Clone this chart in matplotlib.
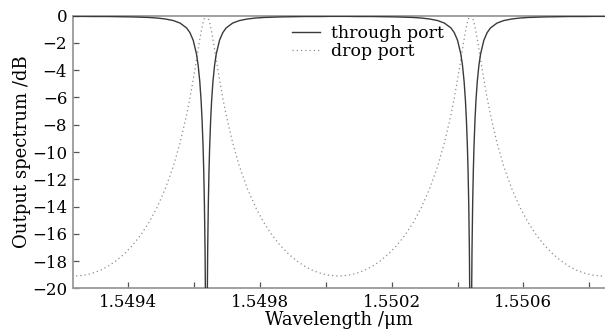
import matplotlib
matplotlib.use("Agg")
import matplotlib.pyplot as plt
import numpy as np
from matplotlib.ticker import FixedLocator

plt.rcParams.update({'font.family': 'DejaVu Serif',
                     'font.size': 12,
                     'mathtext.fontset': 'dejavuserif',
                     'axes.unicode_minus': True})

axis_color = '#9a9a9a'

# sampled spectrum (wavelength in nm), two resonances near 1549.637 and 1550.440 nm
wavelength_nm = [
    1549.228, 1549.2355, 1549.262, 1549.287, 1549.312, 1549.337, 1549.362, 1549.387,
    1549.412, 1549.437, 1549.462, 1549.487, 1549.512, 1549.537, 1549.557, 1549.577,
    1549.587, 1549.597, 1549.607, 1549.612, 1549.617, 1549.621, 1549.624, 1549.627,
    1549.629, 1549.631, 1549.633, 1549.635, 1549.637,
    1549.639, 1549.641, 1549.643, 1549.645, 1549.647, 1549.650, 1549.653, 1549.657,
    1549.662, 1549.667, 1549.677, 1549.687, 1549.697, 1549.717, 1549.737, 1549.762,
    1549.787, 1549.812, 1549.837, 1549.862, 1549.887, 1549.912, 1549.937, 1549.962,
    1549.987, 1550.012, 1550.0385,
    1550.065, 1550.090, 1550.115, 1550.140, 1550.165, 1550.190, 1550.215, 1550.240,
    1550.265, 1550.290, 1550.315, 1550.340, 1550.360, 1550.380, 1550.390, 1550.400,
    1550.410, 1550.415, 1550.420, 1550.424, 1550.427, 1550.430, 1550.432, 1550.434,
    1550.436, 1550.438, 1550.440,
    1550.442, 1550.444, 1550.446, 1550.448, 1550.450, 1550.453, 1550.456, 1550.460,
    1550.465, 1550.470, 1550.480, 1550.490, 1550.500, 1550.520, 1550.540, 1550.565,
    1550.590, 1550.615, 1550.640, 1550.665, 1550.690, 1550.715, 1550.740, 1550.765,
    1550.790, 1550.815, 1550.8415, 1550.852,
]

through_db = [
    -0.05, -0.05, -0.05, -0.06, -0.06, -0.06, -0.07, -0.08,
    -0.09, -0.11, -0.13, -0.17, -0.24, -0.36, -0.54, -0.90,
    -1.24, -1.80, -2.81, -3.63, -4.83, -6.22, -7.66, -9.62,
    -11.38, -13.74, -17.16, -23.12, -40.0,
    -23.12, -17.16, -13.74, -11.38, -9.62, -7.66, -6.22, -4.83,
    -3.63, -2.81, -1.80, -1.24, -0.90, -0.54, -0.36, -0.24,
    -0.17, -0.13, -0.11, -0.09, -0.08, -0.07, -0.06, -0.06,
    -0.06, -0.05, -0.05,
    -0.05, -0.06, -0.06, -0.06, -0.07, -0.08, -0.09, -0.11,
    -0.13, -0.17, -0.24, -0.36, -0.54, -0.90, -1.24, -1.80,
    -2.81, -3.63, -4.83, -6.22, -7.66, -9.62, -11.38, -13.74,
    -17.16, -23.12, -40.0,
    -23.12, -17.16, -13.74, -11.38, -9.62, -7.66, -6.22, -4.83,
    -3.63, -2.81, -1.80, -1.24, -0.90, -0.54, -0.36, -0.24,
    -0.17, -0.13, -0.11, -0.09, -0.08, -0.07, -0.06, -0.06,
    -0.06, -0.05, -0.05, -0.05,
]

drop_db = [
    -19.10, -19.10, -19.05, -18.92, -18.71, -18.40, -18.00, -17.49,
    -16.87, -16.11, -15.19, -14.08, -12.71, -11.02, -9.34, -7.27,
    -6.05, -4.69, -3.22, -2.47, -1.73, -1.18, -0.82, -0.50,
    -0.33, -0.19, -0.08, -0.02, 0.00,
    -0.02, -0.08, -0.19, -0.33, -0.50, -0.82, -1.18, -1.73,
    -2.47, -3.22, -4.69, -6.05, -7.27, -9.34, -11.02, -12.71,
    -14.08, -15.19, -16.11, -16.87, -17.49, -18.00, -18.40, -18.71,
    -18.92, -19.05, -19.10,
    -19.05, -18.92, -18.71, -18.40, -18.00, -17.49, -16.87, -16.11,
    -15.19, -14.08, -12.71, -11.02, -9.34, -7.27, -6.05, -4.69,
    -3.22, -2.47, -1.73, -1.18, -0.82, -0.50, -0.33, -0.19,
    -0.08, -0.02, 0.00,
    -0.02, -0.08, -0.19, -0.33, -0.50, -0.82, -1.18, -1.73,
    -2.47, -3.22, -4.69, -6.05, -7.27, -9.34, -11.02, -12.71,
    -14.08, -15.19, -16.11, -16.87, -17.49, -18.00, -18.40, -18.71,
    -18.92, -19.05, -19.10, -19.10,
]

x_major = [1.5494, 1.5498, 1.5502, 1.5506]
x_minor = [1.5496, 1.5500, 1.5504, 1.5508]
x_labels = ['1.5494', '1.5498', '1.5502', '1.5506']
y_ticks = [0, -2, -4, -6, -8, -10, -12, -14, -16, -18, -20]

wavelength_um = np.array(wavelength_nm) / 1000.0

fig = plt.figure(figsize=(6.05, 3.34), dpi=100)
ax = fig.add_axes([0.1202, 0.1368, 0.8798, 0.8162])

ax.plot(wavelength_um, drop_db, color='#8c8c8c', linewidth=0.9,
        linestyle=(0, (1, 2.4)), label='drop port', zorder=2)
ax.plot(wavelength_um, through_db, color='#3a3a3a', linewidth=1.0,
        label='through port', zorder=3)

ax.set_xlim(1.549231, 1.550848)
ax.set_ylim(-20, 0)

ax.xaxis.set_major_locator(FixedLocator(x_major))
ax.xaxis.set_minor_locator(FixedLocator(x_minor))
ax.set_xticklabels(x_labels)
ax.set_yticks(y_ticks)
ax.set_yticklabels([str(v).replace('-', '\u2212') for v in y_ticks])

for side in ['left', 'bottom', 'top']:
    ax.spines[side].set_color(axis_color)
    ax.spines[side].set_linewidth(1.3)
ax.spines['right'].set_visible(False)

ax.tick_params(axis='both', which='both', direction='in', length=4,
               width=0.9, color='#555555', labelcolor='black', labelsize=12)
ax.tick_params(axis='x', pad=4)
ax.tick_params(axis='y', pad=4)

ax.set_xlabel('Wavelength /\u03bcm', fontsize=13, labelpad=0)
ax.set_ylabel('Output spectrum /dB', fontsize=13, labelpad=1)

handles, labels = ax.get_legend_handles_labels()
ax.legend(handles[::-1], labels[::-1], loc='upper left', fontsize=12.5,
          bbox_to_anchor=(0.39, 1.01), frameon=False, handlelength=1.6,
          handletextpad=0.6, labelspacing=0.05, borderaxespad=0.3)

plt.savefig('out.png', dpi=100)
